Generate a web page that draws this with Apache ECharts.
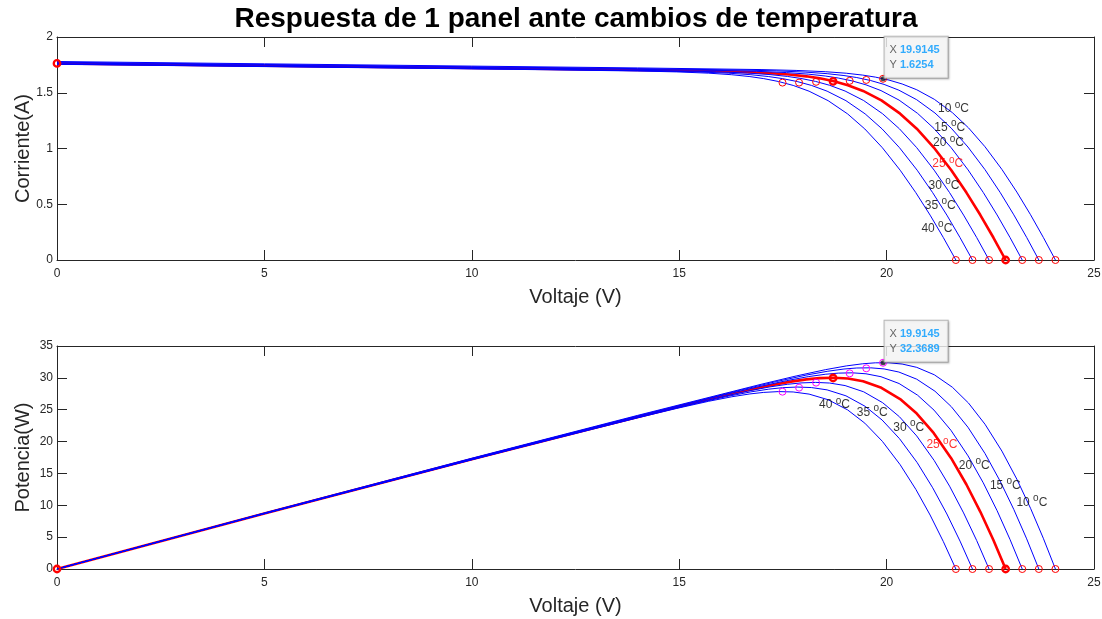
<!DOCTYPE html>
<html>
<head>
<meta charset="utf-8">
<script src="https://cdn.jsdelivr.net/npm/echarts@6/dist/echarts.min.js"></script>
<style>html,body{margin:0;padding:0;background:#fff}#c{width:1102px;height:619px}</style>
</head>
<body>
<div id="c"></div>
<script>
// ---------------- data ----------------
const temps = [10, 15, 20, 25, 30, 35, 40];

// I-V curves: [voltage V, current A]
const iv10 = [[0,1.780],[5,1.7595],[10,1.739],[14,1.7226],[16.973,1.7079],[17.819,1.7002],[18.522,1.6889],[19.027,1.6751],[19.424,1.6583],[19.728,1.6403],[20.056,1.6137],[20.375,1.5788],[20.727,1.5269],[21.151,1.4411],[21.586,1.3216],[21.974,1.1855],[22.372,1.0158],[22.780,0.8123],[23.140,0.6091],[23.470,0.4060],[23.778,0.2030],[24.07,0]];
const iv15 = [[0,1.774],[5,1.7535],[10,1.733],[14,1.7165],[16.480,1.7039],[17.340,1.6962],[18.056,1.6849],[18.568,1.6710],[18.972,1.6543],[19.281,1.6363],[19.615,1.6097],[19.939,1.5749],[20.296,1.5231],[20.726,1.4375],[21.166,1.3183],[21.558,1.1825],[21.961,1.0132],[22.372,0.8103],[22.735,0.6075],[23.067,0.4050],[23.377,0.2024],[23.67,0]];
const iv20 = [[0,1.768],[5,1.7475],[10,1.727],[13,1.7147],[15.986,1.7000],[16.861,1.6922],[17.588,1.6808],[18.110,1.6670],[18.520,1.6503],[18.834,1.6322],[19.174,1.6058],[19.503,1.5710],[19.865,1.5193],[20.301,1.4339],[20.747,1.3150],[21.143,1.1795],[21.550,1.0106],[21.964,0.8082],[22.330,0.6060],[22.664,0.4039],[22.975,0.2019],[23.27,0]];
const iv25 = [[0,1.763],[5,1.7425],[10,1.722],[13,1.7096],[15.491,1.6970],[16.380,1.6892],[17.121,1.6778],[17.651,1.6639],[18.068,1.6472],[18.387,1.6292],[18.731,1.6027],[19.066,1.5680],[19.433,1.5164],[19.875,1.4311],[20.326,1.3124],[20.727,1.1773],[21.138,1.0087],[21.556,0.8066],[21.924,0.6048],[22.260,0.4031],[22.574,0.2016],[22.87,0]];
const iv30 = [[0,1.760],[5,1.7395],[10,1.719],[12,1.7108],[14.994,1.6960],[15.899,1.6882],[16.651,1.6767],[17.190,1.6628],[17.613,1.6461],[17.937,1.6281],[18.288,1.6016],[18.627,1.5669],[18.999,1.5153],[19.447,1.4301],[19.904,1.3115],[20.310,1.1764],[20.725,1.0079],[21.146,0.8060],[21.518,0.6043],[21.856,0.4028],[22.172,0.2014],[22.47,0]];
const iv35 = [[0,1.757],[5,1.7365],[10,1.716],[12,1.7077],[14.497,1.6951],[15.417,1.6871],[16.181,1.6757],[16.729,1.6618],[17.159,1.6450],[17.488,1.6270],[17.844,1.6005],[18.188,1.5658],[18.566,1.5142],[19.020,1.4290],[19.483,1.3105],[19.892,1.1755],[20.311,1.0071],[20.737,0.8054],[21.111,0.6039],[21.453,0.4025],[21.770,0.2012],[22.07,0]];
const iv40 = [[0,1.755],[5,1.7345],[10,1.714],[11,1.7099],[14.000,1.6951],[14.934,1.6871],[15.711,1.6756],[16.267,1.6617],[16.704,1.6449],[17.038,1.6268],[17.399,1.6004],[17.748,1.5656],[18.131,1.5140],[18.591,1.4289],[19.060,1.3103],[19.475,1.1753],[19.898,1.0070],[20.327,0.8053],[20.705,0.6038],[21.049,0.4024],[21.368,0.2012],[21.67,0]];

// open-circuit voltages and maximum power points (order = temps)
const vocV = [24.07, 23.67, 23.27, 22.87, 22.47, 22.07, 21.67];
const mppV = [19.9145, 19.51, 19.11, 18.71, 18.30, 17.89, 17.49];
const mppI = [1.6254, 1.615, 1.607, 1.602, 1.598, 1.591, 1.591];
const mppP = [32.3689, 31.50, 30.71, 29.98, 29.25, 28.46, 27.83];
const iscRef = 1.763;          // short-circuit current of the 25 °C curve

// data tips
const tipV = 19.9145, tipI = 1.6254, tipP = 32.3689;

// axis ranges / tick steps
const xRange = [0, 25], xStep = 5;
const iRange = [0, 2], iStep = 0.5;
const pRange = [0, 35], pStep = 5;

// annotation anchors (data coordinates, left-middle of each text)
const labelIV = [[21.24,1.353],[21.15,1.188],[21.12,1.048],[21.10,0.862],[21.01,0.667],[20.92,0.488],[20.84,0.285]];
const labelPV = [[23.13,10.41],[22.49,13.07],[21.74,16.21],[20.96,19.46],[20.16,22.24],[19.28,24.59],[18.37,25.74]];

// ---------------- chart ----------------
const curves = {10: iv10, 15: iv15, 20: iv20, 25: iv25, 30: iv30, 35: iv35, 40: iv40};
const toPower = c => c.map(([v, i]) => [v, +(v * i).toFixed(4)]);

const FONT = "'Liberation Sans', Arial, Helvetica, sans-serif";
const AX = '#262626';
const BLUE = '#0000ff', RED = '#ff0000', MAG = '#ff00ff';

function mkX(grid, pos, name) {
  return {
    type: 'value', gridIndex: grid, position: pos, min: xRange[0], max: xRange[1], interval: xStep,
    name: name || '', nameLocation: 'middle', nameGap: 27, nameMoveOverlap: false,
    nameTextStyle: {fontSize: 20, color: AX, fontFamily: FONT},
    axisLine: {show: true, onZero: false, lineStyle: {color: AX, width: 1}},
    axisTick: {show: true, inside: true, length: 10, lineStyle: {color: AX, width: 1}},
    axisLabel: {show: pos === 'bottom', color: AX, fontSize: 12, fontFamily: FONT, margin: 8},
    splitLine: {show: false}
  };
}
function mkY(grid, pos, range, step, name) {
  return {
    type: 'value', gridIndex: grid, position: pos, min: range[0], max: range[1], interval: step,
    name: name || '', nameLocation: 'middle', nameGap: 24, nameMoveOverlap: false,
    nameTextStyle: {fontSize: 20, color: AX, fontFamily: FONT},
    axisLine: {show: true, onZero: false, lineStyle: {color: AX, width: 1}},
    axisTick: {show: true, inside: true, length: 10, lineStyle: {color: AX, width: 1}},
    axisLabel: {show: pos === 'left', color: AX, fontSize: 12, fontFamily: FONT, margin: 4},
    splitLine: {show: false}
  };
}

const series = [];
// curves (red thick below the blue ones)
temps.forEach(t => {
  const is25 = t === 25;
  const ls = {color: is25 ? RED : BLUE, width: is25 ? 2.6 : 1};
  const common = {type: 'line', symbol: 'none', showSymbol: false, smooth: false,
    lineStyle: ls, itemStyle: {color: ls.color}, z: is25 ? 2 : 3, silent: true};
  series.push(Object.assign({xAxisIndex: 0, yAxisIndex: 0, data: curves[t]}, common));
  series.push(Object.assign({xAxisIndex: 2, yAxisIndex: 2, data: toPower(curves[t])}, common));
});

function markers(xi, yi, pts, color, bold) {
  return {
    type: 'scatter', xAxisIndex: xi, yAxisIndex: yi, data: pts, symbol: 'circle',
    symbolSize: bold ? 6.5 : 7, z: bold ? 6 : 5, silent: true,
    itemStyle: {color: 'rgba(0,0,0,0)', borderColor: color, borderWidth: bold ? 2.3 : 1, opacity: 1}
  };
}
const thinIdx = temps.map((t, k) => k).filter(k => temps[k] !== 25);
const k25 = temps.indexOf(25);
// top plot markers
series.push(markers(0, 0, thinIdx.map(k => [vocV[k], 0]), RED, false));
series.push(markers(0, 0, thinIdx.map(k => [mppV[k], mppI[k]]), RED, false));
series.push(markers(0, 0, [[vocV[k25], 0], [mppV[k25], mppI[k25]], [0, iscRef]], RED, true));
// bottom plot markers
series.push(markers(2, 2, thinIdx.map(k => [vocV[k], 0]), RED, false));
series.push(markers(2, 2, thinIdx.map(k => [mppV[k], mppP[k]]), MAG, false));
series.push(markers(2, 2, [[vocV[k25], 0], [mppV[k25], mppP[k25]], [0, 0]], RED, true));

// temperature labels
function tempLabels(xi, yi, anchors) {
  return {
    type: 'scatter', xAxisIndex: xi, yAxisIndex: yi, symbolSize: 0.01, z: 8, silent: true,
    itemStyle: {color: 'rgba(0,0,0,0)'},
    data: temps.map((t, k) => ({
      value: anchors[k],
      label: {
        show: true, position: [0, 0], align: 'left', verticalAlign: 'middle',
        formatter: '{n|' + t + ' }{s|o}{n|C}',
        rich: {
          n: {fontSize: 12, fontFamily: FONT, color: t === 25 ? RED : '#000', lineHeight: 18},
          s: {fontSize: 10, fontFamily: FONT, color: t === 25 ? RED : '#000', lineHeight: 8, verticalAlign: 'top'}
        }
      }
    }))
  };
}
series.push(tempLabels(0, 0, labelIV));
series.push(tempLabels(2, 2, labelPV));

// data tips
function dataTip(xi, yi, v, y) {
  return {
    type: 'scatter', xAxisIndex: xi, yAxisIndex: yi, symbol: 'circle', symbolSize: 5, z: 12, silent: true,
    itemStyle: {color: '#1a1a1a'},
    data: [[v, y]],
    label: {
      show: true, position: [4, -39.5], align: 'left', verticalAlign: 'top',
      formatter: '{l|X} {v|' + v.toFixed(4) + '}\n{l|Y} {v|' + y.toFixed(4) + '}',
      backgroundColor: '#fbfbfb', borderColor: '#a6a6a6', borderWidth: 1,
      padding: [6, 8, 6, 5], fontSize: 11, lineHeight: 14.5, fontFamily: FONT,
      shadowColor: 'rgba(0,0,0,0.18)', shadowBlur: 2, shadowOffsetX: 1, shadowOffsetY: 1,
      rich: {
        l: {color: '#404040', fontSize: 11, fontFamily: FONT, lineHeight: 14.5},
        v: {color: '#0099ff', fontSize: 11, fontWeight: 'bold', fontFamily: FONT, lineHeight: 14.5}
      }
    }
  };
}
series.push(dataTip(0, 0, tipV, tipI));
series.push(dataTip(2, 2, tipV, tipP));

const option = {
  animation: false,
  backgroundColor: '#ffffff',
  textStyle: {fontFamily: FONT},
  title: {
    text: 'Respuesta de 1 panel ante cambios de temperatura',
    left: 576, top: 5, textAlign: 'center', padding: 0,
    textStyle: {fontSize: 28, fontWeight: 'bold', color: '#000', fontFamily: FONT}
  },
  grid: [
    {left: 57, right: 8, top: 37, height: 223, containLabel: false, outerBoundsMode: 'none'},
    {left: 57, right: 8, top: 346, height: 223, containLabel: false, outerBoundsMode: 'none'}
  ],
  xAxis: [mkX(0, 'bottom', 'Voltaje (V)'), mkX(0, 'top'), mkX(1, 'bottom', 'Voltaje (V)'), mkX(1, 'top')],
  yAxis: [mkY(0, 'left', iRange, iStep, 'Corriente(A)'), mkY(0, 'right', iRange, iStep),
          mkY(1, 'left', pRange, pStep, 'Potencia(W)'), mkY(1, 'right', pRange, pStep)],
  series: series
};

const chart = echarts.init(document.getElementById('c'), null, {renderer: 'canvas'});
chart.setOption(option);
</script>
</body>
</html>
